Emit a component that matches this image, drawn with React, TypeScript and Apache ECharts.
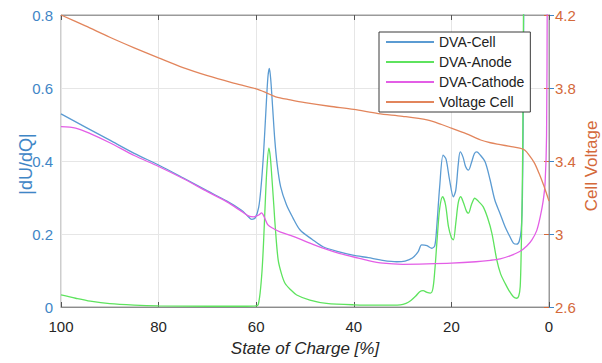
import React, { useEffect, useRef } from "react";
import * as echarts from "echarts";

// State of charge positions [%] and values for each curve
const cellSoc = [100, 95, 90, 85, 80, 75, 70, 66, 63, 61.8, 60.9, 60.2, 59.5, 59, 58.5, 58, 57.6, 57.3, 57, 56.6, 56.2, 55.7, 55, 53.8, 52.5, 51, 48.5, 46.3, 43, 40.2, 37, 34.6, 31.2, 29.5, 28, 26.8, 26.1, 25, 24, 23.4, 23, 22.4, 21.7, 21.1, 20.4, 19.6, 19.1, 18.6, 18.2, 17.6, 17.1, 16.5, 15.9, 15.3, 14.8, 14.2, 13.1, 12.1, 11.1, 10, 9, 8.1, 7.3, 6.6, 6.1, 5.7, 5.45, 5.3, 5.15];
const cellVal = [0.529, 0.493, 0.457, 0.421, 0.389, 0.354, 0.318, 0.29, 0.265, 0.25, 0.24, 0.244, 0.272, 0.33, 0.42, 0.54, 0.63, 0.654, 0.62, 0.54, 0.46, 0.39, 0.33, 0.28, 0.245, 0.211, 0.185, 0.165, 0.151, 0.142, 0.135, 0.129, 0.124, 0.126, 0.134, 0.152, 0.17, 0.168, 0.161, 0.168, 0.22, 0.33, 0.416, 0.405, 0.35, 0.302, 0.32, 0.39, 0.425, 0.41, 0.385, 0.375, 0.395, 0.42, 0.425, 0.418, 0.398, 0.35, 0.293, 0.255, 0.22, 0.195, 0.175, 0.172, 0.18, 0.21, 0.3, 0.5, 0.9];

const anodeSoc = [100, 97, 94, 90, 85, 80, 70, 62, 60, 59.6, 59.2, 58.8, 58.5, 58.1, 57.8, 57.4, 57.1, 56.8, 56.4, 56.1, 55.5, 54.8, 54.1, 53, 51.7, 49, 45.6, 40, 34, 30.5, 29.3, 28.3, 27.3, 26.5, 25.8, 25, 24.3, 23.8, 23.4, 22.9, 22.4, 21.8, 21.2, 20.6, 20, 19.6, 19.1, 18.6, 18.1, 17.5, 16.9, 16.5, 15.9, 15.2, 14.5, 13.5, 12.6, 11.7, 10.7, 9.9, 9, 8.2, 7.3, 6.6, 6.2, 5.9, 5.7, 5.5, 5.35, 5.2];
const anodeVal = [0.033, 0.024, 0.016, 0.009, 0.005, 0.003, 0.002, 0.002, 0.003, 0.006, 0.038, 0.1, 0.175, 0.3, 0.38, 0.435, 0.41, 0.357, 0.28, 0.22, 0.129, 0.09, 0.065, 0.048, 0.033, 0.019, 0.01, 0.006, 0.005, 0.006, 0.01, 0.018, 0.03, 0.042, 0.045, 0.04, 0.038, 0.05, 0.1, 0.19, 0.27, 0.302, 0.28, 0.22, 0.19, 0.184, 0.23, 0.285, 0.302, 0.285, 0.262, 0.257, 0.28, 0.298, 0.29, 0.275, 0.245, 0.202, 0.129, 0.09, 0.065, 0.045, 0.028, 0.024, 0.03, 0.056, 0.15, 0.3, 0.5, 0.9];

const cathodeSoc = [100, 97, 94, 90, 85, 80, 75, 70, 66, 63, 61.5, 60.5, 59.5, 58.9, 58.3, 57.6, 56.5, 55, 53, 51, 49, 46, 43, 40, 37, 34, 30, 25, 20, 15, 12, 10, 8, 6, 4.5, 3.5, 2.5, 1.8, 1.2, 0.8, 0.5, 0.35];
const cathodeVal = [0.494, 0.49, 0.475, 0.45, 0.415, 0.385, 0.352, 0.316, 0.288, 0.262, 0.249, 0.247, 0.252, 0.258, 0.245, 0.225, 0.215, 0.205, 0.196, 0.186, 0.175, 0.16, 0.147, 0.137, 0.127, 0.12, 0.117, 0.118, 0.12, 0.124, 0.128, 0.132, 0.14, 0.152, 0.168, 0.184, 0.21, 0.247, 0.29, 0.34, 0.47, 0.9];

const voltSoc = [100, 95, 90, 85, 80, 75, 70, 65, 60, 58, 56, 53, 50, 45, 40, 35, 30, 25, 22, 20, 17, 14, 12, 10, 8, 6, 5, 4, 3, 2, 1, 0];
const voltVal = [4.2, 4.14, 4.078, 4.02, 3.965, 3.912, 3.868, 3.83, 3.795, 3.775, 3.752, 3.735, 3.72, 3.7, 3.683, 3.66, 3.645, 3.625, 3.6, 3.58, 3.55, 3.515, 3.5, 3.49, 3.48, 3.47, 3.46, 3.43, 3.39, 3.33, 3.26, 3.18];

const seriesNames = ["DVA-Cell", "DVA-Anode", "DVA-Cathode", "Voltage Cell"];
const seriesColors = ["#5b9bd2", "#5ee35e", "#e35ee6", "#e2855c"];

const xTicks = { min: 0, max: 100, interval: 20 };
const yLeft = { min: 0, max: 0.8, interval: 0.2 };
const yRight = { min: 2.6, max: 4.2, interval: 0.4 };

const zip = (xs: number[], ys: number[]) => xs.map((x, i) => [x, ys[i]]);

export default function App() {
  const ref = useRef<HTMLDivElement>(null);
  useEffect(() => {
    if (!ref.current) return;
    const chart = echarts.init(ref.current, null, { renderer: "svg" });
    const font = "'Liberation Sans', Arial, Helvetica, sans-serif";
    const datasets = [
      zip(cellSoc, cellVal),
      zip(anodeSoc, anodeVal),
      zip(cathodeSoc, cathodeVal),
      zip(voltSoc, voltVal),
    ];
    chart.setOption({
      animation: false,
      backgroundColor: "#ffffff",
      textStyle: { fontFamily: font },
      grid: {
        left: 61,
        right: 53,
        top: 15,
        bottom: 56,
        show: true,
        borderColor: "#9a9a9a",
        borderWidth: 1,
        backgroundColor: "transparent",
      },
      legend: {
        data: seriesNames,
        orient: "vertical",
        left: 379,
        top: 32,
        padding: [3, 6, 3, 6],
        itemWidth: 48,
        itemHeight: 14,
        itemGap: 6,
        borderColor: "#3a3a3a",
        borderWidth: 1,
        backgroundColor: "#ffffff",
        itemStyle: { opacity: 0, borderWidth: 0 },
        textStyle: { fontSize: 14, color: "#222222", fontFamily: font },
      },
      xAxis: [
        {
          type: "value",
          inverse: true,
          min: xTicks.min,
          max: xTicks.max,
          interval: xTicks.interval,
          name: "State of Charge [%]",
          nameLocation: "middle",
          nameGap: 33,
          nameTextStyle: { fontSize: 17, fontStyle: "italic", color: "#262626", fontFamily: font },
          axisLine: { show: true, lineStyle: { color: "#8c8c8c" } },
          axisTick: { show: true, inside: true, length: 5, lineStyle: { color: "#555" } },
          axisLabel: { fontSize: 15, color: "#262626", margin: 12, fontFamily: font },
          splitLine: { show: true, lineStyle: { color: "#e6e6e6" } },
        },
        {
          type: "value",
          inverse: true,
          position: "top",
          min: xTicks.min,
          max: xTicks.max,
          interval: xTicks.interval,
          axisLine: { show: true, lineStyle: { color: "#9a9a9a" } },
          axisTick: { show: true, inside: true, length: 5, lineStyle: { color: "#555" } },
          axisLabel: { show: false },
          splitLine: { show: false },
        },
      ],
      yAxis: [
        {
          type: "value",
          min: yLeft.min,
          max: yLeft.max,
          interval: yLeft.interval,
          position: "left",
          axisLine: { show: true, lineStyle: { color: "#7aaad8" } },
          axisTick: { show: true, inside: true, length: 5, lineStyle: { color: "#3f86c6" } },
          axisLabel: { fontSize: 15, color: "#3f86c6", margin: 8, fontFamily: font },
          splitLine: { show: true, lineStyle: { color: "#e6e6e6" } },
        },
        {
          type: "value",
          min: yRight.min,
          max: yRight.max,
          interval: yRight.interval,
          position: "right",
          axisLine: { show: true, lineStyle: { color: "#9a9a9a" } },
          axisTick: { show: true, inside: true, length: 5, lineStyle: { color: "#d4693a" } },
          axisLabel: { fontSize: 15, color: "#d4693a", margin: 6, fontFamily: font },
          splitLine: { show: false },
        },
      ],
      graphic: [
        {
          type: "text",
          x: 26,
          y: 164,
          rotation: Math.PI / 2,
          style: {
            text: "|dU/dQ|",
            fill: "#3f86c6",
            font: `18px ${font}`,
            align: "center",
            verticalAlign: "middle",
          },
        },
        {
          type: "text",
          x: 591,
          y: 166,
          rotation: Math.PI / 2,
          style: {
            text: "Cell Voltage",
            fill: "#d4693a",
            font: `17px ${font}`,
            align: "center",
            verticalAlign: "middle",
          },
        },
      ],
      series: datasets.map((d, i) => ({
        name: seriesNames[i],
        type: "line",
        data: d,
        xAxisIndex: 0,
        yAxisIndex: i === 3 ? 1 : 0,
        symbol: "none",
        smooth: 0.3,
        clip: true,
        lineStyle: { width: 1.3, color: seriesColors[i] },
        itemStyle: { color: seriesColors[i] },
      })),
    });
    return () => chart.dispose();
  }, []);
  return (
    <div
      ref={ref}
      style={{ position: "fixed", left: 0, top: 0, width: 602, height: 363 }}
    />
  );
}
